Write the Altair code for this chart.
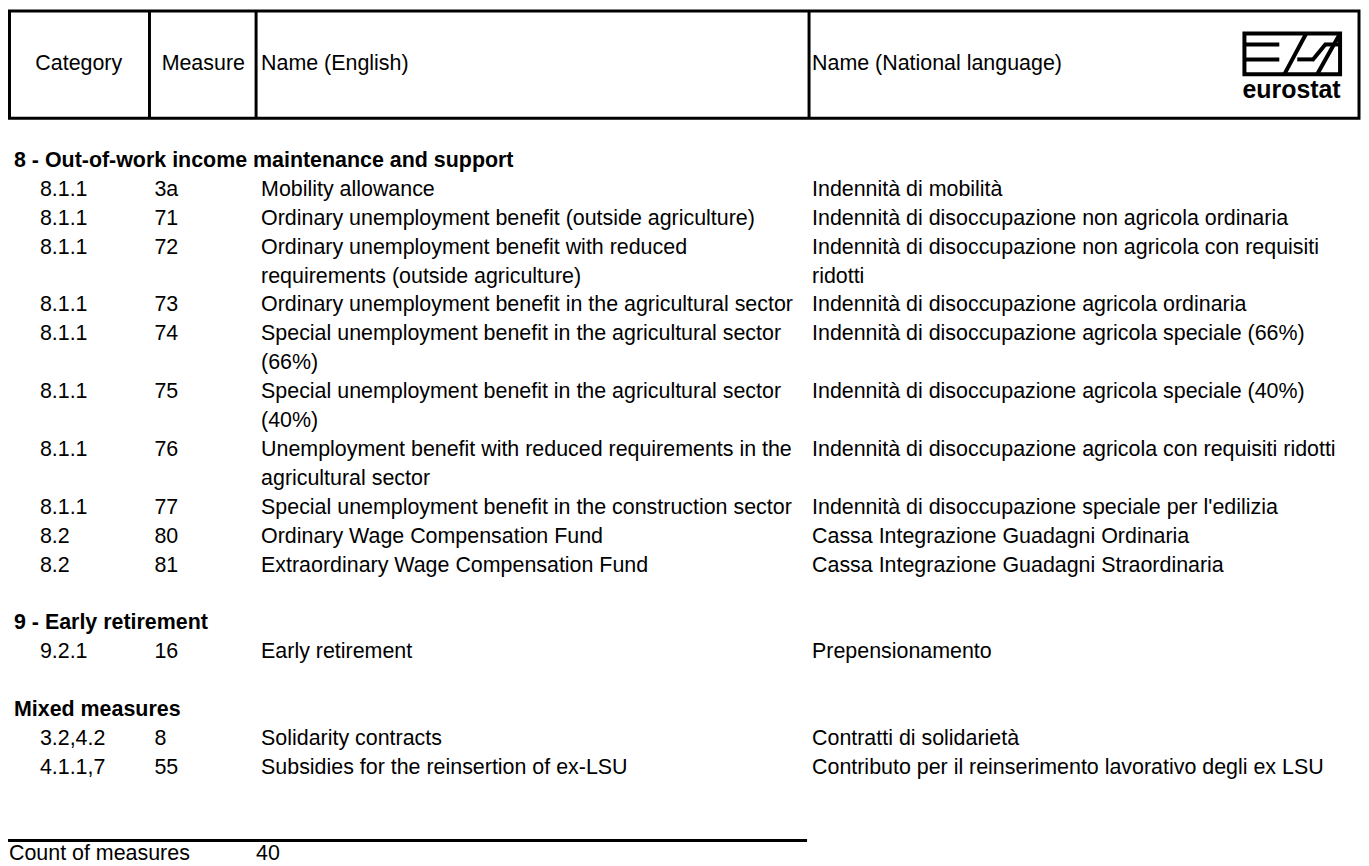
import altair as alt
import pandas as pd

# ---------------- data ----------------
HEADERS = ["Category", "Measure", "Name (English)", "Name (National language)"]
SECTION_TITLES = [
    "8 - Out-of-work income maintenance and support",
    "9 - Early retirement",
    "Mixed measures",
]
ROW_SECTION = [0, 0, 0, 0, 0, 0, 0, 0, 0, 0, 1, 2, 2]
CATEGORIES = ["8.1.1", "8.1.1", "8.1.1", "8.1.1", "8.1.1", "8.1.1", "8.1.1", "8.1.1",
              "8.2", "8.2", "9.2.1", "3.2,4.2", "4.1.1,7"]
MEASURES = ["3a", "71", "72", "73", "74", "75", "76", "77", "80", "81", "16", "8", "55"]
NAMES_EN = [
    "Mobility allowance",
    "Ordinary unemployment benefit (outside agriculture)",
    "Ordinary unemployment benefit with reduced\nrequirements (outside agriculture)",
    "Ordinary unemployment benefit in the agricultural sector",
    "Special unemployment benefit in the agricultural sector\n(66%)",
    "Special unemployment benefit in the agricultural sector\n(40%)",
    "Unemployment benefit with reduced requirements in the\nagricultural sector",
    "Special unemployment benefit in the construction sector",
    "Ordinary Wage Compensation Fund",
    "Extraordinary Wage Compensation Fund",
    "Early retirement",
    "Solidarity contracts",
    "Subsidies for the reinsertion of ex-LSU",
]
NAMES_NAT = [
    "Indennità di mobilità",
    "Indennità di disoccupazione non agricola ordinaria",
    "Indennità di disoccupazione non agricola con requisiti\nridotti",
    "Indennità di disoccupazione agricola ordinaria",
    "Indennità di disoccupazione agricola speciale (66%)",
    "Indennità di disoccupazione agricola speciale (40%)",
    "Indennità di disoccupazione agricola con requisiti ridotti",
    "Indennità di disoccupazione speciale per l'edilizia",
    "Cassa Integrazione Guadagni Ordinaria",
    "Cassa Integrazione Guadagni Straordinaria",
    "Prepensionamento",
    "Contratti di solidarietà",
    "Contributo per il reinserimento lavorativo degli ex LSU",
]
COUNT_LABEL = "Count of measures"
COUNT_VALUE = 40
LOGO_TEXT = "eurostat"

# ---------------- build table records ----------------
recs = []
line = 0
for s, title in enumerate(SECTION_TITLES):
    recs.append({"line": line, "col": "title", "text": title})
    line += 1
    for i, sec in enumerate(ROW_SECTION):
        if sec != s:
            continue
        en = NAMES_EN[i].split("\n")
        nat = NAMES_NAT[i].split("\n")
        recs.append({"line": line, "col": "cat", "text": CATEGORIES[i]})
        recs.append({"line": line, "col": "meas", "text": MEASURES[i]})
        for j, t in enumerate(en):
            recs.append({"line": line + j, "col": "en", "text": t})
        for j, t in enumerate(nat):
            recs.append({"line": line + j, "col": "nat", "text": t})
        line += max(len(en), len(nat))
    line += 1
count_line = line + 1
recs.append({"line": count_line, "col": "countlabel", "text": COUNT_LABEL})
recs.append({"line": count_line, "col": "countval", "text": str(COUNT_VALUE)})
df = pd.DataFrame(recs)

FONT = "Liberation Sans"
FS = 21.5
Y = alt.Y("line:Q", scale=alt.Scale(domain=[0, count_line], range=[152, 848]), axis=None)

base = alt.Chart(df)


def col_layer(col, x, bold=False):
    return base.transform_filter(alt.datum.col == col).mark_text(
        align="left", baseline="middle", font=FONT, fontSize=FS,
        fontWeight="bold" if bold else "normal", color="black"
    ).encode(x=alt.value(x), y=Y, text="text:N")


one = alt.Data(values=[{}])


def label(text, x, y, align="left", size=FS, bold=False, baseline="middle"):
    return alt.Chart(one).mark_text(
        text=text, align=align, baseline=baseline, font=FONT, fontSize=size,
        fontWeight="bold" if bold else "normal", color="black"
    ).encode(x=alt.value(x), y=alt.value(y))


def seg(x1, y1, x2, y2, w=3):
    return alt.Chart(one).mark_rule(color="black", strokeWidth=w).encode(
        x=alt.value(x1), y=alt.value(y1), x2=alt.value(x2), y2=alt.value(y2))


def box(x1, y1, x2, y2, w=3):
    return alt.Chart(one).mark_rect(filled=False, stroke="black", strokeWidth=w).encode(
        x=alt.value(x1), y=alt.value(y1), x2=alt.value(x2), y2=alt.value(y2))


layers = [
    # header box
    box(1.5, 1.5, 1356, 109),
    seg(142, 1.5, 142, 109),
    seg(249, 1.5, 249, 109),
    seg(804, 1.5, 804, 109),
    label(HEADERS[0], 71, 55, align="center"),
    label(HEADERS[1], 196, 55, align="center"),
    label(HEADERS[2], 254, 55),
    label(HEADERS[3], 807, 55),
    # logo
    box(1241, 24, 1337, 65, w=4),
    seg(1241, 35, 1276, 35, w=4),
    seg(1241, 50, 1276, 50, w=4),
    seg(1281, 65, 1303, 24, w=4),
    seg(1294, 50, 1310, 50, w=4),
    seg(1309, 51, 1323, 34, w=4),
    seg(1322, 35, 1337, 35, w=4),
    seg(1314, 65, 1337, 24, w=4),
    label(LOGO_TEXT, 1239, 89, size=25, bold=True, baseline="alphabetic"),
    # table body
    col_layer("title", 6, bold=True),
    col_layer("cat", 32),
    col_layer("meas", 147),
    col_layer("en", 254),
    col_layer("nat", 807),
    col_layer("countlabel", 1),
    col_layer("countval", 249),
    # total rule
    seg(0, 834, 802, 834),
]

chart = alt.layer(*layers).properties(
    width=1358, height=858, padding=0, autosize="none", background="white"
).configure_view(stroke=None)

chart.save("out.html", embed_options={"renderer": "svg", "actions": False})
